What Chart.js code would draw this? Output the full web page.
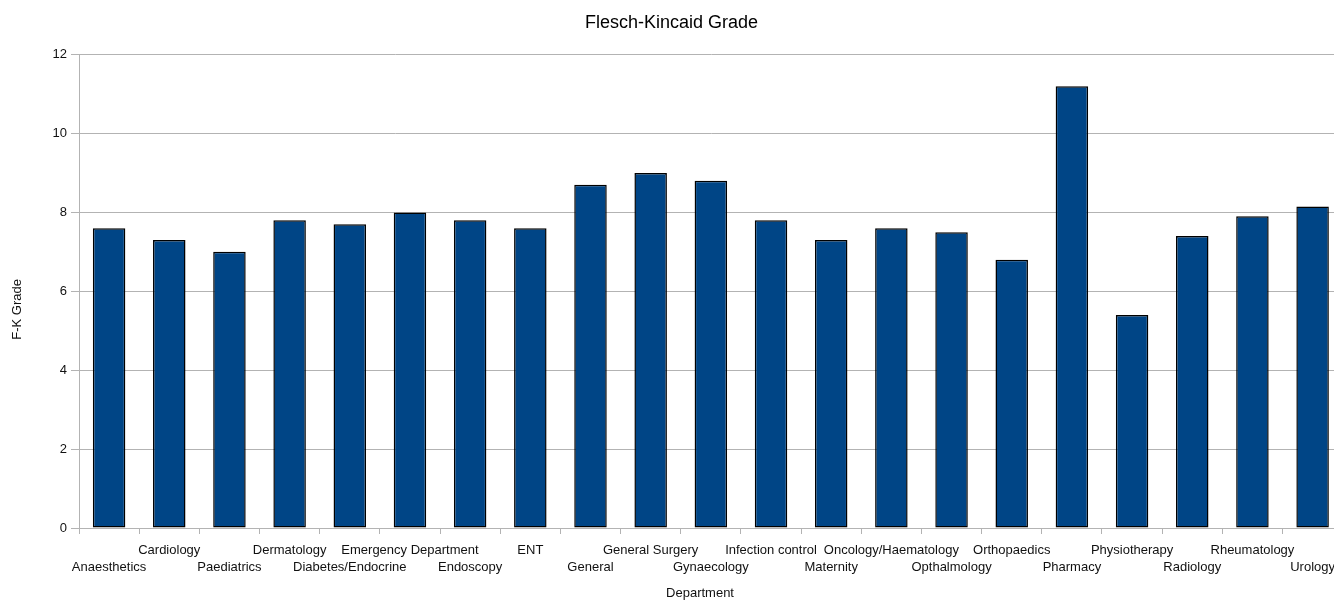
<!DOCTYPE html>
<html>
<head>
<meta charset="utf-8">
<title>Flesch-Kincaid Grade</title>
<script src="https://cdn.jsdelivr.net/npm/chart.js@4/dist/chart.umd.min.js"></script>
<style>
  html, body { margin: 0; padding: 0; background: #fff; overflow: hidden; }
  .chart-wrap { position: relative; width: 1343px; height: 601px; }
</style>
</head>
<body>
<div class="chart-wrap">
  <canvas class="js-graph"></canvas>
</div>
<script>
const departments = [
  'Anaesthetics', 'Cardiology', 'Paediatrics', 'Dermatology', 'Diabetes/Endocrine',
  'Emergency Department', 'Endoscopy', 'ENT', 'General', 'General Surgery',
  'Gynaecology', 'Infection control', 'Maternity', 'Oncology/Haematology',
  'Opthalmology', 'Orthopaedics', 'Pharmacy', 'Physiotherapy', 'Radiology',
  'Rheumatology', 'Urology'
]

const fkGrade = [
  7.6, 7.3, 7.0, 7.8, 7.7,
  8.0, 7.8, 7.6, 8.7, 9.0,
  8.8, 7.8, 7.3, 7.6,
  7.5, 6.8, 11.2, 5.4, 7.4,
  7.9, 8.15
]

const yTicks = [0, 2, 4, 6, 8, 10, 12]

const gridGrey = '#b3b3b3'
const font = 'Liberation Sans, Arial, sans-serif'
const nbsp = (n) => '\u00a0'.repeat(n)

let chart

const init = function () {
  const ctx = document.querySelector('.js-graph')
  chart = new Chart(ctx, {
    type: 'bar',
    data: {
      labels: departments,
      datasets: [
        {
          label: 'F-K Grade',
          data: fkGrade,
          backgroundColor: '#004586',
          borderColor: '#000',
          borderWidth: 1.5,
          borderSkipped: false,
          categoryPercentage: 1,
          barPercentage: 0.54,
        },
      ],
    },
    options: {
      responsive: true,
      maintainAspectRatio: false,
      animation: false,
      layout: { padding: 0 },
      plugins: {
        legend: { display: false },
        tooltip: { enabled: false },
        title: {
          display: true,
          text: 'Flesch-Kincaid Grade',
          color: '#000',
          font: { family: font, size: 18, weight: 'normal' },
          padding: { top: 12, bottom: 21 },
        },
      },
      scales: {
        x: {
          grid: {
            offset: true,
            drawOnChartArea: false,
            drawTicks: true,
            tickLength: 6,
            color: gridGrey,
          },
          border: { color: gridGrey },
          ticks: {
            autoSkip: false,
            maxRotation: 0,
            minRotation: 0,
            padding: 8,
            color: '#111',
            font: { family: font, size: 13, lineHeight: 1.3 },
            // alternate labels between two rows
            callback: function (value, index) {
              const name = this.getLabelForValue(value)
              return index % 2 === 1 ? [name, ''] : ['', name]
            },
          },
          title: {
            display: true,
            text: 'Department' + nbsp(6),
            color: '#111',
            font: { family: font, size: 13 },
            padding: { top: 0, bottom: 0 },
          },
          afterFit: function (scale) {
            scale.height = 73
          },
        },
        y: {
          min: yTicks[0],
          max: yTicks[yTicks.length - 1],
          afterBuildTicks: function (scale) {
            scale.ticks = yTicks.map((v) => ({ value: v }))
          },
          grid: { color: gridGrey, tickLength: 8 },
          border: { color: gridGrey },
          ticks: {
            padding: 4,
            color: '#111',
            font: { family: font, size: 13 },
          },
          title: {
            display: true,
            text: 'F-K Grade' + nbsp(10),
            color: '#111',
            font: { family: font, size: 13 },
            padding: { top: 10, bottom: 0 },
          },
          afterFit: function (scale) {
            scale.width = 79
          },
        },
      },
    },
  })
}

document.addEventListener('DOMContentLoaded', function () {
  init()
})
</script>
</body>
</html>
